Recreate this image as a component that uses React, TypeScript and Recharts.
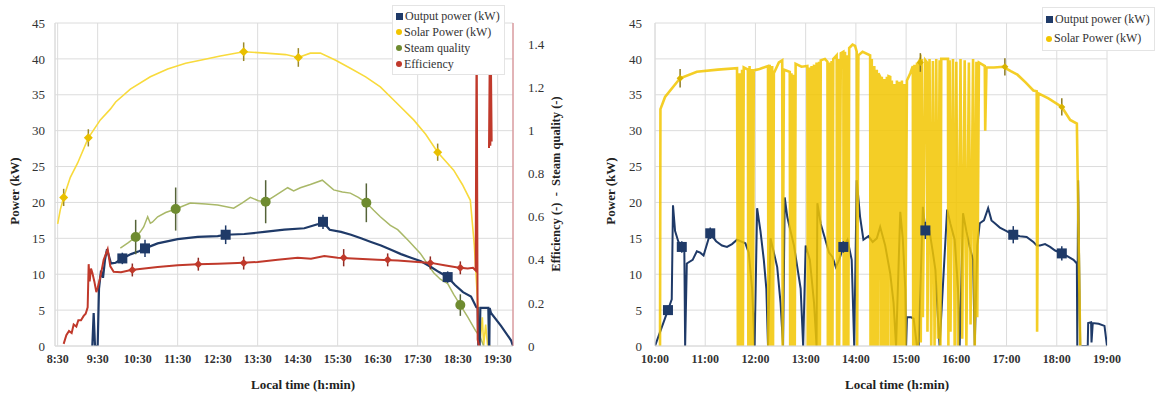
import React from 'react';
import { ComposedChart, Line, Scatter, XAxis, YAxis, CartesianGrid, ErrorBar } from 'recharts';

const FONT = "'Liberation Serif', Tinos, 'Times New Roman', Times, 'DejaVu Serif', serif";

// ---------- Left panel (times in minutes since midnight) ----------
const leftTicks = [510, 570, 630, 690, 750, 810, 870, 930, 990, 1050, 1110, 1170];
const leftTickLabels = ['8:30', '9:30', '10:30', '11:30', '12:30', '13:30', '14:30', '15:30', '16:30', '17:30', '18:30', '19:30'];
const powerTicks = [0, 5, 10, 15, 20, 25, 30, 35, 40, 45];
const ratioTicks = [0, 0.2, 0.4, 0.6, 0.8, 1, 1.2, 1.4];

const leftSolar: [number, number | null][] = [
  [510, 17], [514, 19], [519, 20.7], [529, 23.5], [540, 25.5], [556, 29], [574, 31.5], [589, 33], [597, 34],
  [619, 35.8], [649, 37.5], [675, 38.6], [702, 39.4], [724, 39.8], [754, 40.4], [789, 41], [822, 40.8],
  [852, 40.6], [871, 40.2], [889, 40.8], [904, 40.8], [927, 39.8], [949, 38.7], [972, 37.5], [994, 36.1],
  [1017, 34], [1044, 31.5], [1062, 29.5], [1080, 27], [1104, 24.5], [1117, 22.5], [1129, 20.3], [1135, 14],
  [1140, 6], [1144, 0.8], [1147, 4], [1149, 0], [1152, 3], [1155, 0], [1160, 0],
];
const leftSolarMarks: [number, number, number][] = [
  [519, 20.7, 1.2], [556, 29, 1.2], [789, 41, 1.3], [871, 40.2, 1.3], [1080, 27, 1.2],
];

const leftOutput: [number, number | null][] = [
  [562, 0], [564, 4.6], [566, 0], [570, 0], [572, 8], [575, 10.5], [578, 9.5], [581, 12], [584, 13.5],
  [587, 12.5], [590, 11.5], [597, 11.6], [607, 12.2], [620, 12.8], [632, 13.2], [641, 13.6], [660, 14.3],
  [690, 14.9], [720, 15.2], [750, 15.3], [762, 15.5], [790, 15.6], [820, 15.9], [850, 16.2], [880, 16.4],
  [901, 17], [908, 17.3], [918, 16.2], [935, 15.9], [950, 15.5], [965, 15], [980, 14.5], [995, 14],
  [1010, 13.4], [1025, 12.8], [1040, 12.3], [1055, 11.8], [1070, 11], [1082, 10.3], [1095, 9.6],
  [1106, 8.5], [1118, 7.5], [1130, 6.9], [1138, 5.4], [1140, 5.3], [1141, 0], [1143, 0], [1144, 5.3],
  [1156, 5.3], [1157, 0], [1157.5, 0], [1158, 5.3], [1160, 4.6], [1175, 2.8], [1190, 0.8], [1193, 0],
];
const leftOutputMarks: [number, number, number][] = [
  [607, 12.2, 0.8], [641, 13.6, 1.2], [762, 15.5, 1.3], [908, 17.3, 1.0], [1095, 9.6, 0.8],
];

const leftQuality: [number, number | null][] = [
  [604, 0.455], [616, 0.48], [627, 0.506], [634, 0.53], [639, 0.553], [645, 0.6], [649, 0.57], [652, 0.575],
  [660, 0.6], [672, 0.62], [687, 0.636], [709, 0.664], [732, 0.66], [750, 0.655], [774, 0.64], [787, 0.665],
  [799, 0.69], [811, 0.675], [822, 0.67], [837, 0.7], [855, 0.735], [864, 0.72], [874, 0.735], [889, 0.75],
  [907, 0.77], [924, 0.725], [937, 0.715], [949, 0.71], [961, 0.69], [973, 0.665], [984, 0.63], [994, 0.6],
  [1009, 0.56], [1020, 0.54], [1036, 0.49], [1054, 0.43], [1065, 0.38], [1074, 0.34], [1084, 0.31],
  [1095, 0.29], [1104, 0.24], [1114, 0.19], [1125, 0.135], [1137, 0.07], [1144, 0.04], [1149, 0],
];
const leftQualityMarks: [number, number, number][] = [
  [627, 0.506, 0.08], [687, 0.636, 0.1], [822, 0.67, 0.1], [973, 0.665, 0.09], [1114, 0.19, 0.05],
];

const leftEfficiency: [number, number | null][] = [
  [519, 0.01], [523, 0.05], [527, 0.07], [531, 0.06], [534, 0.1], [538, 0.09], [541, 0.12], [545, 0.12],
  [549, 0.14], [552, 0.15], [555, 0.18], [556.5, 0.38], [558, 0.3], [560, 0.36], [562, 0.34], [565, 0.3],
  [568, 0.25], [570, 0.27], [574, 0.32], [579, 0.4], [585, 0.45], [589, 0.37], [594, 0.345], [605, 0.343],
  [620, 0.353], [640, 0.36], [660, 0.367], [690, 0.375], [720, 0.38], [750, 0.382], [780, 0.385],
  [810, 0.39], [840, 0.4], [870, 0.41], [890, 0.405], [910, 0.418], [930, 0.41], [960, 0.405], [990, 0.4],
  [1020, 0.397], [1050, 0.39], [1070, 0.386], [1090, 0.375], [1110, 0.365], [1125, 0.36], [1133, 0.363],
  [1137, 0.35], [1138.5, 1.5], [1140, 0.03], [1142, 0], [1150, null], [1157, 0.92], [1158, 1.3],
  [1159, 0.93], [1160, 1.28], [1161, 0.95],
];
const leftEfficiencyMarks: [number, number, number][] = [
  [622, 0.353, 0.03], [721, 0.38, 0.03], [789, 0.385, 0.03], [939, 0.41, 0.04], [1005, 0.4, 0.03],
  [1069, 0.386, 0.03], [1114, 0.363, 0.03],
];

// ---------- Right panel ----------
const rightTicks = [600, 660, 720, 780, 840, 900, 960, 1020, 1080, 1140];
const rightTickLabels = ['10:00', '11:00', '12:00', '13:00', '14:00', '15:00', '16:00', '17:00', '18:00', '19:00'];

const rightSolar: [number, number | null][] = [
  [606, 0], [606.5, 33], [612, 34.7], [630, 37.3], [650, 38.2], [675, 38.5], [698, 38.7],
  [699, 0], [701, 38], [702, 0], [704, 38.5], [705, 0], [706, 38.8],
  [711, 38.5], [711.5, 0], [713, 39], [714, 0], [716, 38.6], [717, 0], [718, 38.4], [725, 38.6],
  [735, 39], [735.5, 0], [737, 39.2], [738, 0], [740, 39], [741, 0], [742, 38],
  [748, 39.5], [752, 39.8], [752.5, 0], [754, 38.5],
  [761, 38.2], [761.5, 0], [763, 38], [764, 0], [766, 37.8], [767, 0], [768, 39.3], [775, 38.9],
  [782, 39], [782.5, 0], [784, 38.8], [785, 0], [787, 39], [788, 0], [790, 39.2], [791, 0], [793, 39.5],
  [794, 0], [796, 39.6], [797, 0], [798, 39.8], [803, 40],
  [806, 39.6], [806.5, 0], [808, 39.5], [809, 0], [811, 39.7], [812, 0], [813, 40],
  [817, 40.5], [817.5, 0], [819, 40], [820, 0], [822, 40.8], [825, 41], [825.5, 0], [827, 41], [828, 0],
  [830, 40.5], [831, 0], [832, 41.5], [836, 42], [839, 41.8], [841, 41], [841.5, 0], [843, 40.5], [848, 41],
  [857, 40.5], [857.5, 0], [859, 40], [860, 0], [862, 39], [863, 0], [865, 38.5], [866, 0], [867, 38],
  [869, 37.5], [869.5, 0], [871, 37.5], [872, 0], [874, 37.2], [875, 0], [877, 37.5], [878, 0], [879, 37.6],
  [881, 37.5], [881.5, 0], [883, 37], [884, 0], [886, 36.5], [887, 0], [889, 37], [890, 0], [892, 36.8],
  [893, 0], [895, 37], [896, 0], [898, 36.5], [899, 0], [901, 37], [905, 38],
  [908, 39], [908.5, 0], [910, 39.2], [911, 0], [913, 39.5], [914, 0], [915, 39.6],
  [917, 40], [917.5, 0.5], [919, 40], [920, 4], [923, 39.8], [925, 39.5], [925.5, 2], [928, 40], [930, 0],
  [932, 39.7], [934, 0], [936, 40], [938, 1], [940, 39.8], [941, 0], [942, 40],
  [950, 40], [950.5, 0], [952, 39.8], [953, 2], [956, 40], [958, 0], [960, 39.6], [962, 0], [965, 40],
  [967, 1], [970, 39.8], [972, 0], [975, 39.5], [977, 3], [980, 40], [982, 0], [984, 39.6], [985, 4],
  [987, 39.5], [994, 39], [994.5, 30], [996, 38.8], [1005, 38.8], [1016, 38.9], [1025, 38.3], [1033, 37.8],
  [1043, 36.7], [1052, 35.6], [1056, 35.5], [1056.5, 2], [1058, 35.2], [1070, 34.5], [1086, 33.3],
  [1096, 31.5], [1104, 31], [1108, 0],
];
const rightSolarMarks: [number, number, number][] = [
  [630, 37.3, 1.3], [917, 39.5, 1.3], [1018, 38.9, 1.2], [1086, 33.3, 1.2],
];

const rightOutput: [number, number | null][] = [
  [600, 0], [615.5, 5], [620, 6.5], [621.5, 19.6], [624, 16], [628, 14.5], [632, 13.8], [635, 14], [636, 0],
  [638, 11.5], [645, 12], [650, 13.2], [654, 13], [658, 12.6], [666, 15.7], [673, 14.6], [680, 14],
  [686, 13.8], [692, 14.2], [698, 14.8], [708, 14.3], [712, 13], [716, 8], [719, 0], [722, 19.2],
  [726, 16], [730, 12], [733, 8], [735, 0], [738, 15], [742, 13], [746, 11], [750, 6], [753, 0],
  [755, 20.7], [758, 18], [762, 16], [766, 14], [770, 11], [774, 8], [777, 0], [780, 14], [785, 12],
  [790, 6], [793, 0], [794, 19.9], [798, 17], [803, 15], [808, 13], [812, 12.4], [816, 11], [820, 12],
  [825, 13.8], [830, 14.8], [835, 12], [838, 0], [841, 23.1], [845, 18], [849, 14.8], [855, 15.3],
  [860, 14.5], [865, 15], [869, 16.6], [875, 14], [881, 10.1], [885, 6], [888, 0], [893, 18.7], [896, 15],
  [899, 8], [900, 0], [901, 4], [906, 4], [909, 3.8], [913, 0], [915, 0], [920, 19.4], [923, 16.1],
  [928, 16], [932, 13], [935, 10.6], [938, 4], [940, 0], [949, 19], [953, 17], [958, 14.8], [962, 8],
  [964, 0], [968, 18.5], [972, 16], [976, 13.8], [980, 12], [982, 0], [985, 14], [988, 17.1], [993, 17.5],
  [998, 19.2], [1002, 17.5], [1006, 17.1], [1012, 16.5], [1020, 16], [1028, 15.5], [1036, 15.3],
  [1044, 15.2], [1052, 14.5], [1056, 14], [1060, 14], [1066, 14.2], [1072, 13.8], [1078, 13.3],
  [1086, 12.9], [1093, 12.5], [1100, 12], [1104, 11.5], [1104.5, 0], [1105.5, 23.1], [1108, 0],
  [1117, 0], [1117.5, 3.2], [1121, 3.3], [1121.5, 0.5], [1123, 3.2], [1130, 3.1], [1137, 2.8], [1140, 0],
];
const rightOutputMarks: [number, number, number][] = [
  [615.5, 5, 0.6], [632, 13.8, 0.8], [666, 15.7, 0.8], [825, 13.8, 0.8], [923, 16.1, 1.2],
  [1028, 15.5, 1.2], [1086, 12.9, 1.0],
];

// ---------- helpers ----------
const toPts = (arr: [number, number | null][]) => arr.map(([t, v]) => ({ t, v }));
const toMarks = (arr: [number, number, number][]) => arr.map(([t, v, e]) => ({ t, v, e }));

const NAVY = '#1F3A68';
const GOLD = '#F2C500';
const LIGHT_GOLD = '#F8DA3C';
const OLIVE_LINE = '#A9B868';
const OLIVE_MARK = '#6E8B30';
const RED = '#C0392B';
const GRID = '#DCDCDC';
const TXT = '#333333';

const squareShape = (size: number, fill: string) => (p: any) =>
  p.cx == null ? <g /> : <rect x={p.cx - size / 2} y={p.cy - size / 2} width={size} height={size} fill={fill} />;
const circleShape = (r: number, fill: string) => (p: any) =>
  p.cx == null ? <g /> : <circle cx={p.cx} cy={p.cy} r={r} fill={fill} />;
const diamondShape = (s: number, fill: string) => (p: any) =>
  p.cx == null ? <g /> : (
    <polygon points={`${p.cx},${p.cy - s} ${p.cx + s},${p.cy} ${p.cx},${p.cy + s} ${p.cx - s},${p.cy}`} fill={fill} />
  );

const yTick = { fontFamily: FONT, fontSize: 13, fill: TXT, style: { fontFamily: FONT } };
const xTick = { fontFamily: FONT, fontSize: 12, fill: TXT, fontWeight: 700, style: { fontFamily: FONT } };

const titleStyle: React.CSSProperties = {
  position: 'absolute',
  fontFamily: FONT,
  fontWeight: 700,
  fontSize: 13,
  color: '#222',
  whiteSpace: 'nowrap',
};

const LegendBox = ({ left, top, rowH, items }: { left: number; top: number; rowH: number; items: { label: string; color: string; shape: string }[] }) => (
  <div
    style={{
      position: 'absolute',
      left,
      top,
      background: '#fff',
      border: '1px solid #E4E4E4',
      padding: '2px 4px 2px 3px',
      fontFamily: FONT,
      fontSize: 12,
      color: '#333',
      lineHeight: `${rowH}px`,
    }}
  >
    {items.map((it) => (
      <div key={it.label} style={{ display: 'flex', alignItems: 'center', whiteSpace: 'nowrap' }}>
        <span
          style={{
            display: 'inline-block',
            width: it.shape === 'square' ? 7 : 6,
            height: it.shape === 'square' ? 7 : 6,
            borderRadius: it.shape === 'circle' ? 3 : 0,
            background: it.color,
            marginRight: 2,
          }}
        />
        {it.label}
      </div>
    ))}
  </div>
);

const leftLegend = [
  { label: 'Output power (kW)', color: NAVY, shape: 'square' },
  { label: 'Solar Power (kW)', color: GOLD, shape: 'circle' },
  { label: 'Steam quality', color: OLIVE_MARK, shape: 'circle' },
  { label: 'Efficiency', color: RED, shape: 'circle' },
];
const rightLegend = [
  { label: 'Output power (kW)', color: NAVY, shape: 'square' },
  { label: 'Solar Power (kW)', color: GOLD, shape: 'circle' },
];

const LeftChart = () => (
  <ComposedChart width={580} height={399} margin={{ top: 23, right: 17, bottom: 0, left: 0 }} style={{ fontFamily: FONT }}>
    <CartesianGrid stroke={GRID} yAxisId="p" xAxisId="x" />
    <XAxis
      xAxisId="x"
      type="number"
      dataKey="t"
      domain={[506, 1193]}
      ticks={leftTicks}
      allowDataOverflow
      tickFormatter={(v: number) => leftTickLabels[leftTicks.indexOf(v)] ?? ''}
      tick={xTick}
      tickLine={false}
      axisLine={{ stroke: GRID }}
      height={53}
    />
    <YAxis
      yAxisId="p"
      domain={[0, 45]}
      ticks={powerTicks}
      allowDataOverflow
      tick={yTick}
      tickLine={false}
      tickMargin={4}
      axisLine={{ stroke: GRID }}
      width={55}
    />
    <YAxis
      yAxisId="r"
      orientation="right"
      domain={[0, 1.5]}
      ticks={ratioTicks}
      allowDataOverflow
      tick={yTick}
      tickLine={false}
      tickMargin={9}
      axisLine={{ stroke: '#D77A80' }}
      width={50}
    />
    <Line xAxisId="x" yAxisId="p" data={toPts(leftSolar)} dataKey="v" stroke={LIGHT_GOLD} strokeWidth={1.6} dot={false} activeDot={false} isAnimationActive={false} type="linear" />
    <Line xAxisId="x" yAxisId="r" data={toPts(leftQuality)} dataKey="v" stroke={OLIVE_LINE} strokeWidth={1.5} dot={false} activeDot={false} isAnimationActive={false} type="linear" />
    <Line xAxisId="x" yAxisId="p" data={toPts(leftOutput)} dataKey="v" stroke={NAVY} strokeWidth={2.2} dot={false} activeDot={false} isAnimationActive={false} type="linear" />
    <Line xAxisId="x" yAxisId="r" data={toPts(leftEfficiency)} dataKey="v" stroke={RED} strokeWidth={2} dot={false} activeDot={false} isAnimationActive={false} type="linear" />
    <Scatter xAxisId="x" yAxisId="p" data={toMarks(leftSolarMarks)} dataKey="v" shape={diamondShape(4.5, '#E9C000')} isAnimationActive={false}>
      <ErrorBar dataKey="e" direction="y" width={0} stroke="#9C8A2A" strokeWidth={1.5} isAnimationActive={false} />
    </Scatter>
    <Scatter xAxisId="x" yAxisId="r" data={toMarks(leftQualityMarks)} dataKey="v" shape={circleShape(5, OLIVE_MARK)} isAnimationActive={false}>
      <ErrorBar dataKey="e" direction="y" width={0} stroke="#556338" strokeWidth={1.5} isAnimationActive={false} />
    </Scatter>
    <Scatter xAxisId="x" yAxisId="p" data={toMarks(leftOutputMarks)} dataKey="v" shape={squareShape(10, NAVY)} isAnimationActive={false}>
      <ErrorBar dataKey="e" direction="y" width={0} stroke={NAVY} strokeWidth={1.5} isAnimationActive={false} />
    </Scatter>
    <Scatter xAxisId="x" yAxisId="r" data={toMarks(leftEfficiencyMarks)} dataKey="v" shape={diamondShape(4, RED)} isAnimationActive={false}>
      <ErrorBar dataKey="e" direction="y" width={0} stroke="#8E2A22" strokeWidth={1.5} isAnimationActive={false} />
    </Scatter>
  </ComposedChart>
);

const RightChart = () => (
  <ComposedChart width={566} height={399} margin={{ top: 23, right: 49, bottom: 0, left: 0 }} style={{ fontFamily: FONT }}>
    <CartesianGrid stroke={GRID} yAxisId="p" xAxisId="x" />
    <XAxis
      xAxisId="x"
      type="number"
      dataKey="t"
      domain={[600, 1140]}
      ticks={rightTicks}
      allowDataOverflow
      tickFormatter={(v: number) => rightTickLabels[rightTicks.indexOf(v)] ?? ''}
      tick={xTick}
      tickLine={false}
      axisLine={{ stroke: GRID }}
      height={53}
    />
    <YAxis
      yAxisId="p"
      domain={[0, 45]}
      ticks={powerTicks}
      allowDataOverflow
      tick={yTick}
      tickLine={false}
      tickMargin={7}
      axisLine={{ stroke: GRID }}
      width={65}
    />
    <Line xAxisId="x" yAxisId="p" data={toPts(rightOutput)} dataKey="v" stroke={NAVY} strokeWidth={2} dot={false} activeDot={false} isAnimationActive={false} type="linear" />
    <Line xAxisId="x" yAxisId="p" data={toPts(rightSolar)} dataKey="v" stroke={GOLD} strokeOpacity={0.85} strokeWidth={2.6} dot={false} activeDot={false} isAnimationActive={false} type="linear" />
    <Scatter xAxisId="x" yAxisId="p" data={toMarks(rightOutputMarks)} dataKey="v" shape={squareShape(10, NAVY)} isAnimationActive={false}>
      <ErrorBar dataKey="e" direction="y" width={0} stroke={NAVY} strokeWidth={1.5} isAnimationActive={false} />
    </Scatter>
    <Scatter xAxisId="x" yAxisId="p" data={toMarks(rightSolarMarks)} dataKey="v" shape={diamondShape(3.5, '#D9B400')} isAnimationActive={false}>
      <ErrorBar dataKey="e" direction="y" width={0} stroke="#8C7A20" strokeWidth={1.5} isAnimationActive={false} />
    </Scatter>
  </ComposedChart>
);

export default function App() {
  return (
    <div style={{ position: 'absolute', left: 0, top: 0, width: 1156, height: 399, background: '#fff', overflow: 'hidden', fontFamily: FONT }}>
      <div style={{ position: 'absolute', left: 0, top: 0 }}>
        <LeftChart />
      </div>
      <div style={{ position: 'absolute', left: 590, top: 0 }}>
        <RightChart />
      </div>

      <div style={{ ...titleStyle, left: 15, top: 191, transform: 'translate(-50%, -50%) rotate(-90deg)' }}>Power (kW)</div>
      <div style={{ ...titleStyle, left: 556, top: 184, fontSize: 12.5, transform: 'translate(-50%, -50%) rotate(-90deg)' }}>
        Efficiency (-)&nbsp;&nbsp;-&nbsp;&nbsp;Steam quality (-)
      </div>
      <div style={{ ...titleStyle, left: 303, top: 385, transform: 'translate(-50%, -50%)' }}>Local time (h:min)</div>
      <div style={{ ...titleStyle, left: 611, top: 191, transform: 'translate(-50%, -50%) rotate(-90deg)' }}>Power (kW)</div>
      <div style={{ ...titleStyle, left: 897, top: 385, transform: 'translate(-50%, -50%)' }}>Local time (h:min)</div>

      <LegendBox left={392} top={5} rowH={16} items={leftLegend} />
      <LegendBox left={1042} top={7} rowH={19} items={rightLegend} />
    </div>
  );
}
